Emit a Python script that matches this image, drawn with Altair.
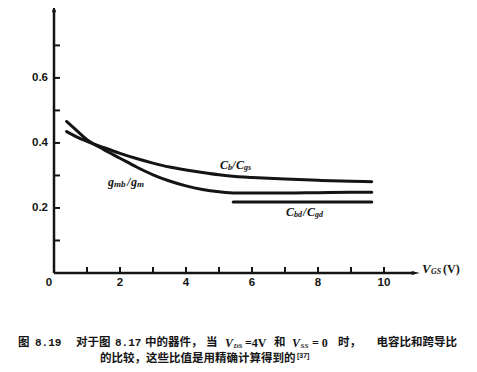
import altair as alt
import pandas as pd

# ---------------- data ----------------
vgs = [0.38, 0.7, 1.0, 1.5, 2.0, 2.5, 3.0, 3.5, 4.0, 4.5, 5.0, 5.5, 6.0, 7.0, 8.0, 9.0, 9.63]
cb_cgs = [0.435, 0.418, 0.405, 0.386, 0.368, 0.352, 0.338, 0.326, 0.317, 0.309,
          0.302, 0.297, 0.294, 0.289, 0.285, 0.282, 0.281]
gmb_gm = [0.466, 0.437, 0.410, 0.380, 0.353, 0.326, 0.302, 0.283, 0.268, 0.257,
          0.250, 0.246, 0.246, 0.246, 0.247, 0.248, 0.248]
vgs_cbd = [5.43, 9.63]
cbd_cgd = [0.218, 0.218]

x_tick_labels = [0, 2, 4, 6, 8, 10]
y_tick_labels = [0.2, 0.4, 0.6]
x_minor_ticks = [1, 2, 3, 4, 5, 6, 7, 8, 9, 10]
y_minor_ticks = [0.1, 0.2, 0.3, 0.4, 0.5, 0.6, 0.7]

rows = []
for x, y in zip(vgs, cb_cgs):
    rows.append({"x": x, "y": y, "s": "Cb/Cgs"})
for x, y in zip(vgs, gmb_gm):
    rows.append({"x": x, "y": y, "s": "gmb/gm"})
for x, y in zip(vgs_cbd, cbd_cgd):
    rows.append({"x": x, "y": y, "s": "Cbd/Cgd"})
curves = pd.DataFrame(rows)

# ---------------- layout ----------------
W, H = 362, 265
ink = "#141414"
serif = "Liberation Serif"
sans = "Liberation Sans"
cjk = "Noto Sans CJK SC"
mono = "Liberation Mono"

xs = alt.Scale(domain=[0, 10.97], nice=False, zero=False)
ys = alt.Scale(domain=[0, 0.815], nice=False, zero=False)
one = pd.DataFrame({"a": [0]})

lines = alt.Chart(curves).mark_line(
    color=ink, strokeWidth=3, interpolate="monotone", strokeCap="round"
).encode(
    x=alt.X("x:Q", scale=xs, axis=None),
    y=alt.Y("y:Q", scale=ys, axis=None),
    detail="s:N",
)

# axis lines
y_axis_line = alt.Chart(one).mark_rule(color=ink, strokeWidth=2.5).encode(
    x=alt.value(0), y=alt.value(H), y2=alt.value(2))
x_axis_line = alt.Chart(one).mark_rule(color=ink, strokeWidth=2.5).encode(
    x=alt.value(0), x2=alt.value(W - 2), y=alt.value(H))

xticks = alt.Chart(pd.DataFrame({"x": x_minor_ticks})).mark_rule(
    color=ink, strokeWidth=2
).encode(x=alt.X("x:Q", scale=xs, axis=None), y=alt.value(H), y2=alt.value(H - 6))

yticks = alt.Chart(pd.DataFrame({"y": y_minor_ticks})).mark_rule(
    color=ink, strokeWidth=2
).encode(y=alt.Y("y:Q", scale=ys, axis=None), x=alt.value(0), x2=alt.value(6))

xlab_df = pd.DataFrame({"x": x_tick_labels})
xlabels = alt.Chart(xlab_df).transform_filter("datum.x > 0").mark_text(
    baseline="middle", align="center", font=sans, fontWeight="bold", fontSize=11.5, color=ink
).encode(x=alt.X("x:Q", scale=xs, axis=None), y=alt.value(H + 10), text=alt.Text("x:Q", format="d"))
xlabel0 = alt.Chart(xlab_df).transform_filter("datum.x == 0").mark_text(
    baseline="middle", align="center", dx=-5, font=sans, fontWeight="bold", fontSize=11.5, color=ink
).encode(x=alt.X("x:Q", scale=xs, axis=None), y=alt.value(H + 10), text=alt.Text("x:Q", format="d"))

ylabels = alt.Chart(pd.DataFrame({"y": y_tick_labels})).mark_text(
    baseline="middle", align="right", font=sans, fontWeight="bold", fontSize=11.5, color=ink
).encode(y=alt.Y("y:Q", scale=ys, axis=None), x=alt.value(-6), text=alt.Text("y:Q", format=".1f"))

arrow_up = alt.Chart(one).mark_point(
    shape="M0,-1L0.42,0.7L-0.42,0.7Z", filled=True, size=90, color=ink, opacity=1
).encode(x=alt.value(0), y=alt.value(1))

arrow_right = alt.Chart(one).mark_point(
    shape="M1,0L-0.7,0.42L-0.7,-0.42Z", filled=True, size=90, color=ink, opacity=1
).encode(x=alt.value(W - 1), y=alt.value(H))

layers = [lines, y_axis_line, x_axis_line, xticks, yticks, xlabels, xlabel0, ylabels,
          arrow_up, arrow_right]


def piece(text, xd, yd, dx, dy=0, size=12, style="italic", font=serif):
    return alt.Chart(one).mark_text(
        text=text, align="left", baseline="middle", dx=dx, dy=dy,
        fontSize=size, font=font, fontStyle=style, fontWeight="bold", color=ink
    ).encode(
        x=alt.XDatum(xd, type="quantitative", scale=xs, axis=None),
        y=alt.YDatum(yd, type="quantitative", scale=ys, axis=None),
    )


# C_b / C_gs
lx, ly = 5.03, 0.332
layers += [piece("C", lx, ly, 0), piece("b", lx, ly, 8, 3, 8),
           piece("/", lx, ly, 12), piece("C", lx, ly, 16), piece("gs", lx, ly, 24, 3, 8)]
# g_mb / g_m
lx, ly = 1.64, 0.28
layers += [piece("g", lx, ly, 0), piece("mb", lx, ly, 6, 2, 9),
           piece("/", lx, ly, 19), piece("g", lx, ly, 23), piece("m", lx, ly, 29, 2, 9)]
# C_bd / C_gd
lx, ly = 7.03, 0.188
layers += [piece("C", lx, ly, 0), piece("bd", lx, ly, 8, 3, 8),
           piece("/", lx, ly, 17), piece("C", lx, ly, 21), piece("gd", lx, ly, 29, 3, 8)]


def fixed(text, px, py, size=11.5, font=cjk, style="normal", weight="bold", dy=0):
    return alt.Chart(one).mark_text(
        text=text, align="left", baseline="middle", dy=dy,
        fontSize=size, font=font, fontStyle=style, fontWeight=weight, color=ink
    ).encode(x=alt.value(px), y=alt.value(py))


# axis title V_GS (V)
layers += [
    fixed("V", W + 6, H - 4, 13, serif, "italic"),
    fixed("GS", W + 15, H - 1, 8, serif, "italic"),
    fixed("(V)", W + 27, H - 4, 12, serif),
]

# caption (page coordinates minus plot origin 54, 8)
y1, y2 = 335, 351
ox = 54
layers += [
    fixed("图", 18 - ox, y1),
    fixed("8.19", 35 - ox, y1, 11, mono),
    fixed("对于图", 76 - ox, y1),
    fixed("8.17", 115 - ox, y1, 11, mono),
    fixed("中的器件，", 145 - ox, y1),
    fixed("当", 206 - ox, y1),
    fixed("V", 225 - ox, y1, 12, serif, "italic"),
    fixed("DS", 233.5 - ox, y1, 7, serif, "italic", dy=3),
    fixed("=4V", 245 - ox, y1, 12, serif),
    fixed("和", 274 - ox, y1),
    fixed("V", 292 - ox, y1, 12, serif, "italic"),
    fixed("SS", 300.5 - ox, y1, 7, serif, "italic", dy=3),
    fixed("= 0", 312 - ox, y1, 12, serif),
    fixed("时，", 338 - ox, y1),
    fixed("电容比和跨导比", 376.5 - ox, y1),
    fixed("的比较，这些比值是用精确计算得到的", 100 - ox, y2),
    fixed("[37]", 297 - ox, y2, 7, sans, dy=-3),
]

chart = alt.layer(*layers).properties(
    width=W, height=H,
    autosize=alt.AutoSizeParams(type="none"),
    padding={"left": 46, "top": 0, "right": 461 - 46 - W, "bottom": 356 - H},
    background="white",
).configure_view(stroke=None)

chart.save("out.html", embed_options={"renderer": "svg", "actions": False})
